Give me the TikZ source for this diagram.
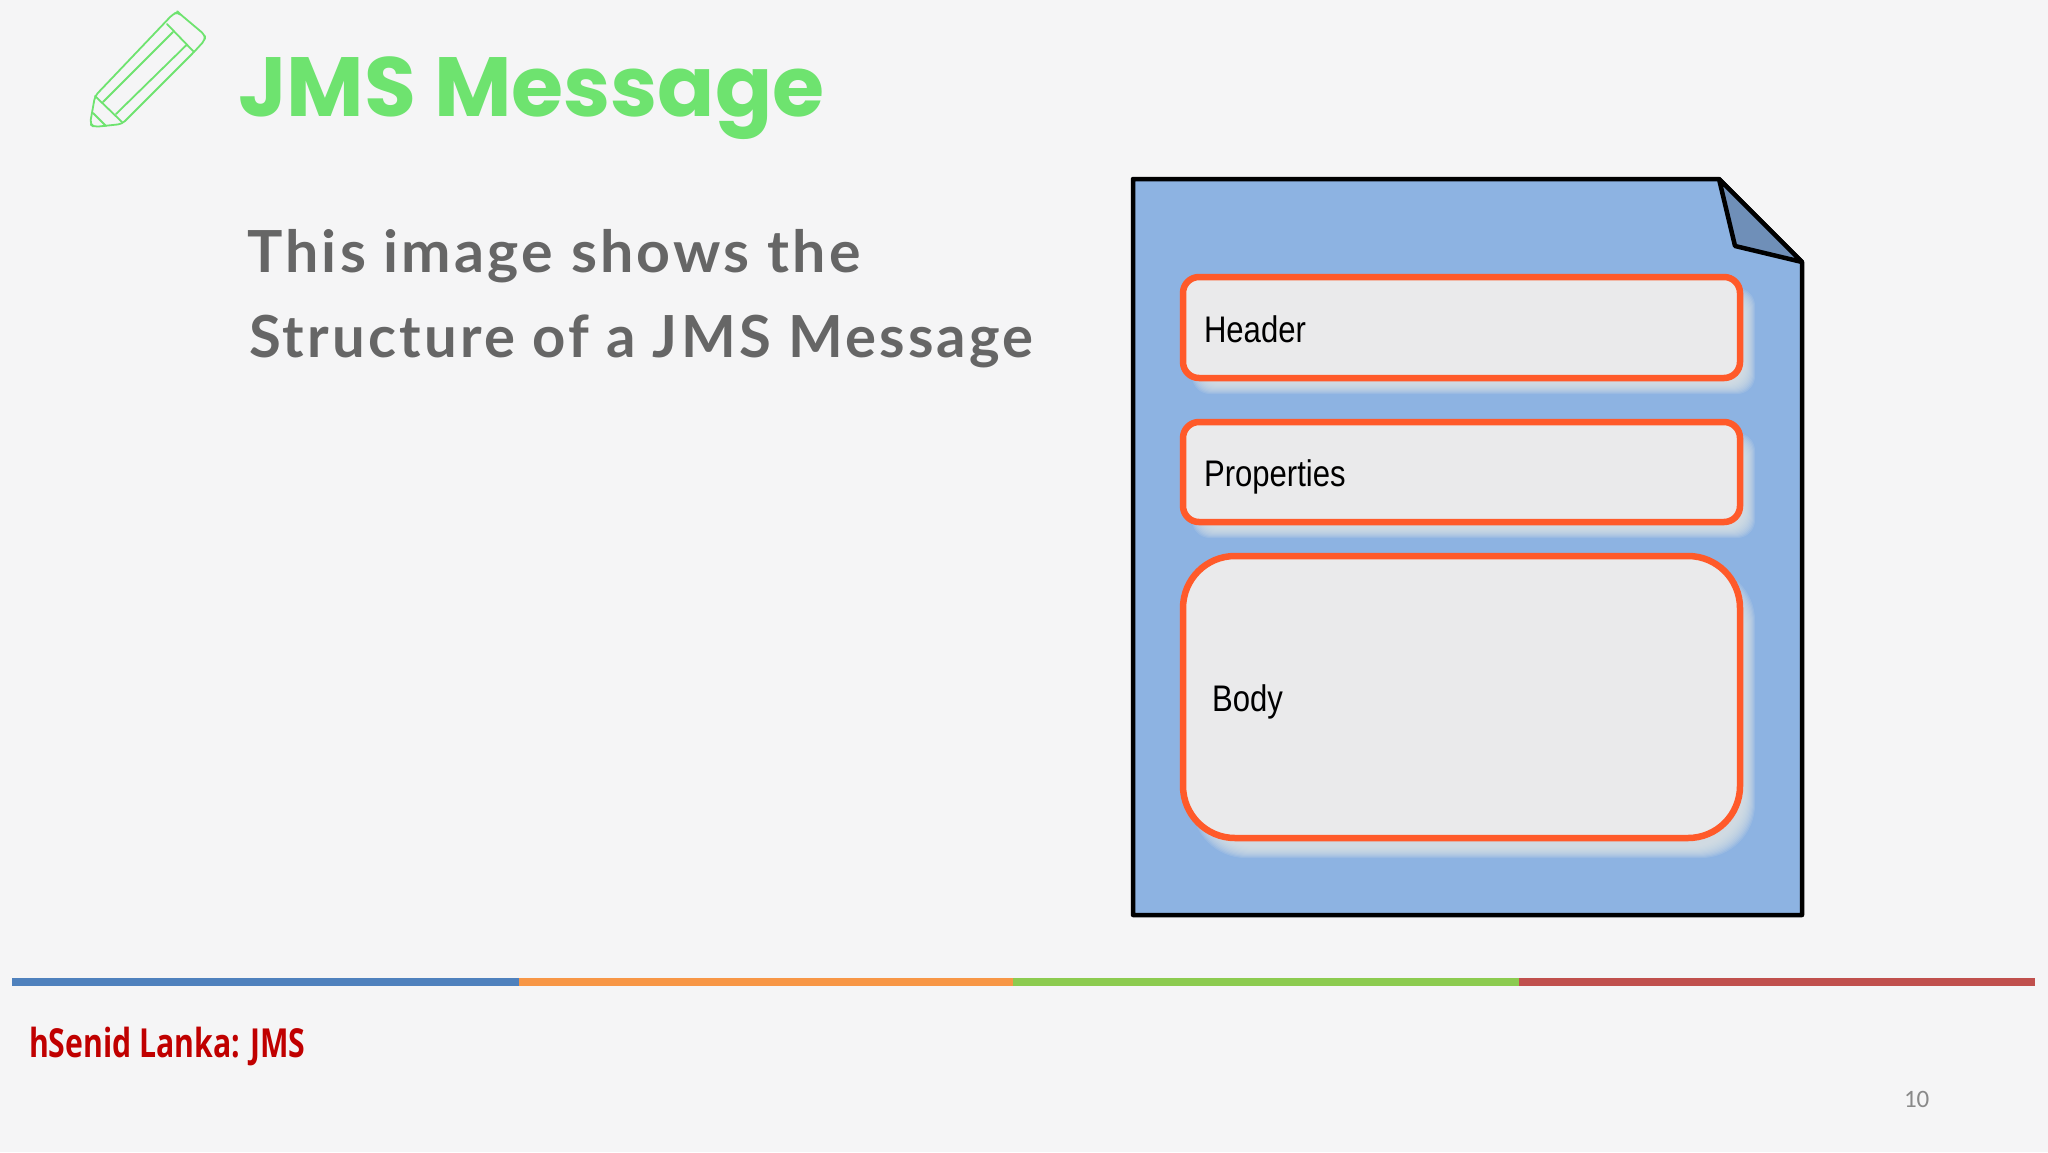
\documentclass[tikz,border=0pt]{standalone}
\usepackage{fontspec}
\setmainfont{Liberation Sans}
\newfontfamily\titlefont{Poppins}[BoldFont={Poppins Bold}]
\newfontfamily\leadfont{Lato}[LetterSpace=5.5]
\newfontfamily\footfont{Open Sans}
\newfontfamily\pagefont{Carlito}
\definecolor{bgc}{HTML}{F5F5F6}
\definecolor{greenc}{HTML}{6EE36F}
\definecolor{pagec}{HTML}{8DB3E2}
\definecolor{foldc}{HTML}{6F8FB8}
\definecolor{orangec}{HTML}{FF5A2A}
\definecolor{boxc}{HTML}{EAEAEB}
\definecolor{shadowc}{HTML}{DCE3E8}
\definecolor{leadc}{HTML}{666666}
\definecolor{footc}{HTML}{C00000}
\definecolor{pagenum}{HTML}{898989}
\definecolor{barblue}{HTML}{4F81BD}
\definecolor{barorange}{HTML}{F79646}
\definecolor{bargreen}{HTML}{8CCB50}
\definecolor{barred}{HTML}{C0504D}
\tikzset{
  slot/.style={draw=orangec,line width=3.25pt,fill=boxc,rectangle,inner sep=0pt,outer sep=0pt,anchor=north west},
  txt/.style={anchor=base west,inner sep=0pt,outer sep=0pt},
  pen/.style={draw=greenc,line width=0.9pt,line join=round,line cap=round},
  sheet/.style={draw=black,line width=2.25pt,line join=round},
}
\begin{document}
\begin{tikzpicture}[x=0.5pt,y=-0.5pt]
\useasboundingbox (0,0) rectangle (2048,1152);
\fill[bgc] (0,0) rectangle (2048,1152);
% pencil
\draw[pen,rounded corners=2pt] (95,96) -- (173,14) -- (178,12) -- (180,14) -- (205,35) -- (205,40) -- (194,52) -- (122,124) -- (94,127) -- (90,124) -- cycle;
\draw[pen] (167,24) -- (194,52);
\draw[pen] (173,32) -- (103,102);
\draw[pen] (186.5,45) -- (116,114);
\draw[pen] (95,96) -- (122,122);
\draw[pen] (93,113) -- (106,126);
% title
\node[txt,text=greenc] (title) at (238,116) {\fontsize{42pt}{50pt}\selectfont\titlefont\bfseries\scalebox{1.005}[1]{JMS Message}};
% lead text
\node[txt,text=leadc] (lead1) at (247,272) {\fontsize{29pt}{34pt}\selectfont\leadfont\bfseries\scalebox{1.019}[1]{This image shows the}};
\node[txt,text=leadc] (lead2) at (249,357) {\fontsize{29pt}{34pt}\selectfont\leadfont\bfseries Structure of a JMS Message};
% page
\draw[sheet,fill=pagec] (1133,179) -- (1719,179) -- (1802,262) -- (1802,915) -- (1133,915) -- cycle;
\draw[sheet,fill=foldc] (1719,179) -- (1735,246) -- (1802,262) -- cycle;
% shadows
\foreach \i in {0,...,11}{
  \fill[shadowc,opacity=0.16,rounded corners=9pt] (1192+\i,288+\i) rectangle (1755-\i,394-\i);
  \fill[shadowc,opacity=0.16,rounded corners=9pt] (1192+\i,433+\i) rectangle (1755-\i,538-\i);
  \fill[shadowc,opacity=0.16,rounded corners=27pt] (1192+\i,567+\i) rectangle (1755-\i,858-\i);
}
% boxes
\node[slot,rounded corners=8pt,minimum width=278.5pt,minimum height=50.5pt] (header) at (1183,277) {};
\node[slot,rounded corners=8pt,minimum width=278.5pt,minimum height=50pt] (properties) at (1183,422) {};
\node[slot,rounded corners=26pt,minimum width=278.5pt,minimum height=141pt] (body) at (1183,556) {};
\node[txt] (headert) at (1204,342) {\fontsize{18.5pt}{22pt}\selectfont\scalebox{0.84}[1]{Header}};
\node[txt] (propt) at (1204,486) {\fontsize{18.5pt}{22pt}\selectfont\scalebox{0.84}[1]{Properties}};
\node[txt] (bodyt) at (1212,711) {\fontsize{18.5pt}{22pt}\selectfont\scalebox{0.84}[1]{Body}};
% bars
\fill[barblue] (12,978) rectangle (519,986);
\fill[barorange] (519,978) rectangle (1013,986);
\fill[bargreen] (1013,978) rectangle (1519,986);
\fill[barred] (1519,978) rectangle (2035,986);
% footer
\node[txt,text=footc] (foot) at (29,1057) {\fontsize{20pt}{24pt}\selectfont\footfont\bfseries\scalebox{0.755}[1]{hSenid Lanka: JMS}};
\node[txt,text=pagenum] (num) at (1904,1107) {\fontsize{12.5pt}{14pt}\selectfont\pagefont 10};
\end{tikzpicture}
\end{document}
